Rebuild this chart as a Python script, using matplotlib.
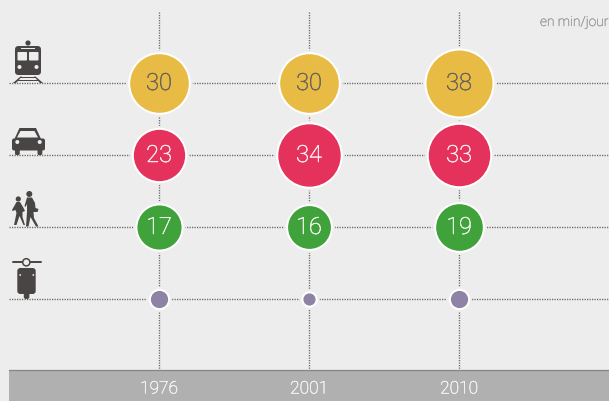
"""Temps de transport par mode, en min/jour: proportional circles on a dotted grid."""
import numpy as np
import matplotlib
matplotlib.use("Agg")
import matplotlib.pyplot as plt
import matplotlib.patheffects as pe
from matplotlib.patches import Circle, FancyBboxPatch, Polygon, Rectangle

years = ["1976", "2001", "2010"]
modes = ["train", "voiture", "marche", "deux-roues"]
train = [30, 30, 38]
voiture = [23, 34, 33]
marche = [17, 16, 19]
deux_roues = [2.6, 1.3, 2.6]   # no labels in the picture, estimated from circle size
unit = "en min/jour"

series = [train, voiture, marche, deux_roues]
fills = ["#e8bb45", "#e5325c", "#3fa23a", "#8f83a5"]
text_colors = ["#66625a", "#fbeef0", "#eef6ec", None]

BG = "#ededed"
DARK = "#4a4545"
DOT = "#6a6a6a"
W, H = 609, 401
PX = 72 / 100  # points per pixel at dpi 100
R_SCALE = 5.35  # pixel radius for sqrt(value)

x_pos = [159, 309, 459]
y_pos = [83, 155, 227, 299]


def area(r):
    # scatter size for a pixel radius
    return (2 * r * PX) ** 2


def thicken(color, lw=0.35):
    # Roboto Light alone comes out too thin at this size
    return [pe.withStroke(linewidth=lw, foreground=color)]


def poly(ax, pts, color=DARK, z=5):
    ax.add_patch(Polygon(pts, closed=True, fc=color, ec="none", zorder=z))


def dot(ax, x, y, r, color=DARK, z=5):
    ax.add_patch(Circle((x, y), r, fc=color, ec="none", zorder=z))


def box(ax, x, y, w, h, rad, color=DARK, z=5):
    ax.add_patch(FancyBboxPatch((x + rad, y + rad), w - 2 * rad, h - 2 * rad,
                                boxstyle=f"round,pad={rad},rounding_size={rad}",
                                fc=color, ec="none", zorder=z))


def draw_train(ax):
    dot(ax, 28, 43, 2.6)
    box(ax, 15, 46, 26, 29, 3.5)
    box(ax, 17.5, 52, 9.5, 8.5, 0.8, BG, 6)
    box(ax, 29, 52, 9.5, 8.5, 0.8, BG, 6)
    ax.add_patch(Rectangle((21, 47.5), 14, 1.5, fc=BG, ec="none", zorder=6))
    dot(ax, 19.5, 67, 2, BG, 6)
    dot(ax, 36.5, 67, 2, BG, 6)
    # rails
    poly(ax, [(13, 83), (20.5, 76.5), (22, 76.5), (16, 83)])
    poly(ax, [(43, 83), (35.5, 76.5), (34, 76.5), (40, 83)])
    ax.add_patch(Rectangle((20, 77), 16, 1, fc=DARK, ec="none", zorder=5))
    ax.add_patch(Rectangle((18, 80), 20, 1, fc=DARK, ec="none", zorder=5))


def draw_car(ax):
    poly(ax, [(19.5, 128), (36, 128), (41.5, 140), (14, 140)])
    poly(ax, [(20.5, 131), (34.5, 131), (38, 137.5), (17, 137.5)], BG, 6)
    box(ax, 12, 138.5, 33, 12, 2)
    box(ax, 15, 148, 4.8, 7, 1.5)
    box(ax, 37.5, 148, 4.8, 7, 1.5)
    dot(ax, 17.3, 142, 2, BG, 6)
    dot(ax, 39.7, 142, 2, BG, 6)


def draw_walkers(ax):
    # small walker
    dot(ax, 18.3, 199, 2.6)
    poly(ax, [(16.5, 202), (20, 202), (23, 207), (25, 211), (22.5, 212), (22.5, 217),
              (25, 225), (23.5, 225), (19.5, 216), (16.5, 225), (14, 225),
              (16.5, 213), (15.5, 210), (12.5, 211), (12, 210)])
    # big walker
    dot(ax, 29.3, 194, 3)
    poly(ax, [(27, 197.5), (32, 197.5), (35, 203), (35.5, 208), (38.5, 209),
              (37.5, 212), (33.5, 212), (34, 218), (38.5, 226.5), (36, 226.5),
              (30.5, 217), (28.5, 226.5), (26, 226.5), (27, 212), (27, 204), (25.5, 207), (24.5, 206)])


def draw_scooter(ax):
    ax.plot([12.5, 41], [262.2, 262.2], color=DARK, lw=1.4, solid_capstyle="round", zorder=5)
    ax.add_patch(Circle((26.3, 262.3), 3.6, fc=BG, ec=DARK, lw=1.1, zorder=6))
    box(ax, 17.3, 268, 18.4, 26, 3)
    box(ax, 23.8, 288, 5.6, 11, 2.2, DARK, 6)
    dot(ax, 20.2, 275, 0.9, BG, 6)
    dot(ax, 33.3, 275, 0.9, BG, 6)


plt.rcParams["font.family"] = ["Roboto", "DejaVu Sans"]

fig = plt.figure(figsize=(W / 100, H / 100), dpi=100, facecolor=BG)
ax = fig.add_axes([0, 0, 1, 1])
ax.set_xlim(0, W)
ax.set_ylim(H, 0)
ax.axis("off")

# dotted grid
for y in y_pos:
    ax.plot([9, W], [y, y], color=DOT, lw=1.0, ls=(0, (0.9, 0.9)), zorder=1)
for x in x_pos:
    ax.plot([x, x], [12, 370], color=DOT, lw=1.0, ls=(0, (0.9, 0.9)), zorder=1)

# year band
ax.add_patch(Rectangle((9, 370), W - 9, H - 370, fc="#b0b0b0", ec="none", zorder=2))
ax.plot([9, W], [370.3, 370.3], color="#858585", lw=0.9, zorder=3)
for x, year in zip(x_pos, years):
    ax.text(x, 389, year, ha="center", va="center", fontsize=12.5, fontweight="light",
            color="#f6f6f6", zorder=4, path_effects=thicken("#f6f6f6", 0.3))

# circles
for y, vals, fill, tcol in zip(y_pos, series, fills, text_colors):
    for x, v in zip(x_pos, vals):
        r = R_SCALE * np.sqrt(v)
        ax.scatter(x, y, s=area(r + 4), color=BG, linewidths=0, zorder=6)
        ax.scatter(x, y, s=area(r + 2), color="white", linewidths=0, zorder=7)
        ax.scatter(x, y, s=area(r), color=fill, linewidths=0, zorder=8)
        if tcol:
            ax.text(x, y + 0.5, f"{v}", ha="center", va="center", fontsize=17,
                    fontweight="light", color=tcol, zorder=9, path_effects=thicken(tcol))

ax.text(W - 0.5, 22, unit, ha="right", va="center", fontsize=9.9, fontweight="light",
        color="#a0a0a0", path_effects=thicken("#a0a0a0", 0.3))

draw_train(ax)
draw_car(ax)
draw_walkers(ax)
draw_scooter(ax)

fig.savefig("out.png", dpi=100, facecolor=BG)
